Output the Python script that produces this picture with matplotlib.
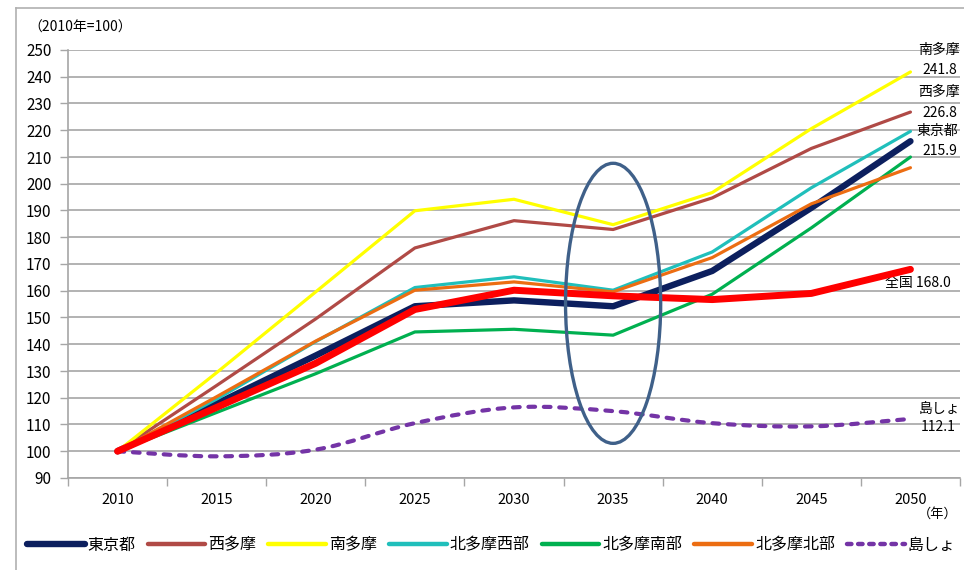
import matplotlib
matplotlib.use("Agg")
import matplotlib.pyplot as plt
import numpy as np
from matplotlib.path import Path
from matplotlib.patches import PathPatch, Ellipse
from matplotlib.lines import Line2D

plt.rcParams['font.family'] = ['Noto Sans CJK JP', 'DejaVu Sans']

# 年次
years = ['2010', '2015', '2020', '2025', '2030', '2035', '2040', '2045', '2050']

# 指数（2010年=100）
tokyo = [100, 117.8, 135.8, 154.2, 156.4, 154.2, 167.4, 191.0, 215.9]
nishitama = [100, 124.6, 149.5, 176.0, 186.2, 182.9, 194.7, 213.2, 226.8]
minamitama = [100, 129.4, 159.6, 189.9, 194.2, 184.7, 196.7, 220.6, 241.8]
kitatama_nishi = [100, 119.5, 141.0, 161.2, 165.2, 160.2, 174.5, 198.5, 219.6]
kitatama_minami = [100, 114.5, 129.0, 144.6, 145.6, 143.4, 158.7, 183.5, 210.0]
kitatama_kita = [100, 120.4, 141.2, 160.2, 163.3, 159.6, 172.4, 192.5, 206.0]
shima = [100, 98.1, 100.6, 110.5, 116.4, 115.0, 110.5, 109.3, 112.1]
zenkoku = [100, 116.4, 132.9, 153.0, 160.2, 158.1, 156.7, 159.0, 168.0]

fig = plt.figure(figsize=(9.64, 5.70), dpi=100)
ax = fig.add_axes([68/964, 1-478/570, (960-68)/964, (478-50)/570])

grid_c = '#a6a6a6'
x = np.arange(len(years))

series = [
    ('東京都', tokyo, '#0c1f5e', 4.6),
    ('西多摩', nishitama, '#b04a46', 2.3),
    ('南多摩', minamitama, '#ffff00', 2.3),
    ('北多摩西部', kitatama_nishi, '#20bfbb', 2.3),
    ('北多摩南部', kitatama_minami, '#00b050', 2.3),
    ('北多摩北部', kitatama_kita, '#ec6d12', 2.3),
]
handles = []
for i, (name, vals, col, lw) in enumerate(series):
    ax.plot(x, vals, color=col, lw=lw, solid_joinstyle='round',
            solid_capstyle='round', zorder=3 + i * 0.1)
    handles.append(Line2D([], [], color=col, lw=max(lw, 3.2), solid_capstyle='round'))

# 島しょ: smoothed curve as cubic Bezier segments
pts = np.column_stack([x, shima]).astype(float)
ext = np.vstack([pts[0], pts, pts[-1]])
verts = [tuple(pts[0])]
codes = [Path.MOVETO]
for k in range(len(pts) - 1):
    p0, p1, p2, p3 = ext[k], ext[k + 1], ext[k + 2], ext[k + 3]
    c1 = p1 + (p2 - p0) / 6.0
    c2 = p2 - (p3 - p1) / 6.0
    verts += [tuple(c1), tuple(c2), tuple(p2)]
    codes += [Path.CURVE4] * 3
shima_col = '#7434a6'
ax.add_patch(PathPatch(Path(verts, codes), fill=False, edgecolor=shima_col, lw=3.0,
                       linestyle=(0, (1.6, 2.1)), capstyle='round', zorder=3.7))
handles.append(Line2D([], [], color=shima_col, lw=3.2, linestyle=(0, (1.0, 1.5)),
                      dash_capstyle='round'))

# 全国
ax.plot(x, zenkoku, color='#ff0000', lw=5.0, solid_joinstyle='round',
        solid_capstyle='round', zorder=4)

# 2035年付近の楕円
ax.add_patch(Ellipse((5, 155.3), 0.96, 104.7, fill=False, edgecolor='#3f6089',
                     lw=2.4, zorder=5))

ax.set_xlim(-0.5, len(years) - 0.5)
ax.set_ylim(90, 250)
ax.set_yticks(np.arange(90, 251, 10))
ax.set_xticks(x)
ax.set_xticklabels(years)
ax.set_xticks(np.arange(-0.5, len(years), 1.0), minor=True)
ax.tick_params(axis='x', which='major', length=0, pad=11, labelsize=10.5)
ax.tick_params(axis='x', which='minor', length=6, color=grid_c, width=1.0, direction='out')
ax.tick_params(axis='y', length=6, color=grid_c, width=1.0, pad=6, labelsize=11)
ax.grid(axis='y', color=grid_c, lw=1.2, zorder=0)
ax.set_axisbelow(True)
for s in ['top', 'right']:
    ax.spines[s].set_visible(False)
for s in ['left', 'bottom']:
    ax.spines[s].set_color(grid_c)
    ax.spines[s].set_linewidth(1.2)

# 系列末尾のラベル
lab_fs = 10
ax.text(8.08, 250, '南多摩', fontsize=lab_fs, va='center', ha='left')
ax.text(8.12, 242.4, '241.8', fontsize=lab_fs, va='center', ha='left')
ax.text(8.08, 234.2, '西多摩', fontsize=lab_fs, va='center', ha='left')
ax.text(8.12, 226.4, '226.8', fontsize=lab_fs, va='center', ha='left')
ax.text(8.06, 219.6, '東京都', fontsize=lab_fs, va='center', ha='left')
ax.text(8.12, 212.1, '215.9', fontsize=lab_fs, va='center', ha='left')
ax.text(7.74, 162.8, '全国 168.0', fontsize=lab_fs, va='center', ha='left')
ax.text(8.08, 115.3, '島しょ', fontsize=lab_fs, va='center', ha='left')
ax.text(8.1, 109.0, '112.1', fontsize=lab_fs, va='center', ha='left')

fig.text(28/964, 1-28/570, '（2010年=100）', fontsize=10, va='center', ha='left')
fig.text(938/964, 1-514/570, '（年）', fontsize=9.5, va='center', ha='center')

# 外枠
fig.add_artist(Line2D([16/964, 16/964], [0, 1-8/570], transform=fig.transFigure,
                      color='#b0b0b0', lw=1.2))
fig.add_artist(Line2D([16/964, 1], [1-8/570, 1-8/570], transform=fig.transFigure,
                      color='#b0b0b0', lw=1.2))

labels = [s[0] for s in series] + ['島しょ']
fig.legend(handles, labels, loc='center left', bbox_to_anchor=(27/964, 1-545/570),
           ncol=7, frameon=False, fontsize=11.5, handlelength=3.6, handletextpad=0.2,
           columnspacing=0.75, borderpad=0, borderaxespad=0)

fig.savefig('out.png', dpi=100)
